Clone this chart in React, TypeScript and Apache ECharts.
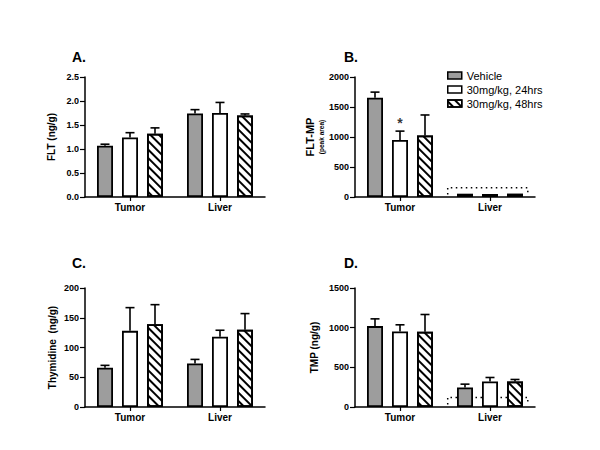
import { useEffect, useRef } from "react";
import * as echarts from "echarts";

const categories = ["Tumor", "Liver"];
const seriesNames = ["Vehicle", "30mg/kg, 24hrs", "30mg/kg, 48hrs"];

// Panel A: FLT (ng/g) — means and SEM, [Tumor, Liver]
const fltVehicle = [1.07, 1.74];
const fltVehicleSem = [0.03, 0.08];
const flt24h = [1.24, 1.75];
const flt24hSem = [0.1, 0.22];
const flt48h = [1.32, 1.7];
const flt48hSem = [0.12, 0.03];

// Panel B: FLT-MP (peak area)
const fltmpVehicle = [1653, 55];
const fltmpVehicleSem = [95, 0];
const fltmp24h = [952, 50];
const fltmp24hSem = [146, 0];
const fltmp48h = [1025, 55];
const fltmp48hSem = [342, 0];
const fltmpLod = 155;

// Panel C: Thymidine (ng/g)
const thyVehicle = [66, 73];
const thyVehicleSem = [4, 7];
const thy24h = [128, 118];
const thy24hSem = [39, 11];
const thy48h = [139, 130];
const thy48hSem = [33, 27];

// Panel D: TMP (ng/g)
const tmpVehicle = [1020, 247];
const tmpVehicleSem = [91, 41];
const tmp24h = [953, 322];
const tmp24hSem = [83, 50];
const tmp48h = [949, 322];
const tmp48hSem = [217, 25];
const tmpLod = 121;

const FONT = "'Liberation Sans', Arial, sans-serif";
const BAR_W = 16;
const BAR_GAP = 9;
const BAR_STEP = BAR_W + BAR_GAP;
const GRAY = "#9d9d9d";

const hatch = {
  symbol: "rect",
  symbolSize: 1,
  dashArrayX: [1, 0],
  dashArrayY: [2, 4],
  rotation: Math.PI / 4,
  color: "#000",
  backgroundColor: "#fff",
};

const barStyles = [
  { color: GRAY, borderColor: "#000", borderWidth: 1.8 },
  { color: "#fff", borderColor: "#000", borderWidth: 1.8 },
  { color: "#fff", borderColor: "#000", borderWidth: 1.8, decal: hatch },
];

type Panel = {
  means: number[][];
  sems: number[][];
  max: number;
  interval: number;
  decimals: number;
  name: string;
  nameGap: number;
  grid: { left: number; top: number; width: number; height: number };
  lod?: number;
  lodRange?: number[];
  lodBottom?: number;
  star?: boolean;
};

const panels: Panel[] = [
  {
    means: [fltVehicle, flt24h, flt48h],
    sems: [fltVehicleSem, flt24hSem, flt48hSem],
    max: 2.5,
    interval: 0.5,
    decimals: 1,
    name: "FLT (ng/g)",
    nameGap: 29,
    grid: { left: 85, top: 77, width: 180, height: 120 },
  },
  {
    means: [fltmpVehicle, fltmp24h, fltmp48h],
    sems: [fltmpVehicleSem, fltmp24hSem, fltmp48hSem],
    max: 2000,
    interval: 500,
    decimals: 0,
    name: "{a|FLT-MP}\n{b|(peak area)}",
    nameGap: 20,
    grid: { left: 355, top: 77, width: 180, height: 120 },
    lod: fltmpLod,
    lodRange: [1.03, 1.92],
    lodBottom: 40,
    star: true,
  },
  {
    means: [thyVehicle, thy24h, thy48h],
    sems: [thyVehicleSem, thy24hSem, thy48hSem],
    max: 200,
    interval: 50,
    decimals: 0,
    name: "Thymidine  (ng/g)",
    nameGap: 28,
    grid: { left: 85, top: 288, width: 180, height: 119 },
  },
  {
    means: [tmpVehicle, tmp24h, tmp48h],
    sems: [tmpVehicleSem, tmp24hSem, tmp48hSem],
    max: 1500,
    interval: 500,
    decimals: 0,
    name: "TMP (ng/g)",
    nameGap: 36,
    grid: { left: 355, top: 288, width: 180, height: 119 },
    lod: tmpLod,
    lodRange: [1.03, 1.92],
    lodBottom: 30,
  },
];

const titles = ["A.", "B.", "C.", "D."];
const titlePos = [
  [72, 50],
  [344, 50],
  [72, 256],
  [344, 256],
];

function makeErrRender(idx: number) {
  return (_params: any, api: any) => {
    const c = api.value(0);
    const m = api.value(1);
    const t = api.value(2);
    if (!(t > m)) return null;
    const p0 = api.coord([c, m]);
    const p1 = api.coord([c, t]);
    const x = p0[0] + (idx - 1) * BAR_STEP;
    const st = { stroke: "#000", lineWidth: 1.6 };
    return {
      type: "group",
      children: [
        { type: "line", shape: { x1: x, y1: p0[1], x2: x, y2: p1[1] }, style: st },
        { type: "line", shape: { x1: x - 4.5, y1: p1[1], x2: x + 4.5, y2: p1[1] }, style: st },
      ],
    };
  };
}

export default function App() {
  const ref = useRef<HTMLDivElement>(null);
  useEffect(() => {
    if (!ref.current) return;
    const chart = echarts.init(ref.current, undefined, { renderer: "svg" });
    const grids: any[] = [];
    const xAxes: any[] = [];
    const yAxes: any[] = [];
    const series: any[] = [];
    panels.forEach((p, gi) => {
      grids.push({ ...p.grid, containLabel: false });
      const catAxisIndex = xAxes.length;
      xAxes.push({
        type: "category",
        gridIndex: gi,
        data: categories,
        axisLine: { lineStyle: { color: "#000", width: 1.5 } },
        axisTick: { show: true, alignWithLabel: true, length: 4, lineStyle: { color: "#000", width: 1.2 } },
        axisLabel: { color: "#000", fontWeight: "bold", fontSize: 10, fontFamily: FONT, margin: 5 },
      });
      let valAxisIndex = -1;
      if (p.lod !== undefined) {
        valAxisIndex = xAxes.length;
        xAxes.push({ type: "value", gridIndex: gi, min: 0, max: 2, show: false });
      }
      yAxes.push({
        type: "value",
        gridIndex: gi,
        min: 0,
        max: p.max,
        interval: p.interval,
        name: p.name,
        nameLocation: "middle",
        nameGap: p.nameGap,
        nameRotate: 90,
        nameTextStyle: {
          color: "#000",
          fontWeight: "bold",
          fontSize: 10,
          fontFamily: FONT,
          rich: {
            a: { fontWeight: "bold", fontSize: 11, lineHeight: 13, fontFamily: FONT, color: "#000" },
            b: { fontWeight: "bold", fontSize: 6.5, lineHeight: 11, fontFamily: FONT, color: "#000" },
          },
        },
        splitLine: { show: false },
        axisLine: { show: true, lineStyle: { color: "#000", width: 1.5 } },
        axisTick: { show: true, length: 5, lineStyle: { color: "#000", width: 1.2 } },
        axisLabel: {
          color: "#000",
          fontWeight: "bold",
          fontSize: 9,
          fontFamily: FONT,
          margin: 6,
          formatter: (v: number) => v.toFixed(p.decimals),
        },
      });
      p.means.forEach((m, si) => {
        series.push({
          type: "bar",
          name: seriesNames[si],
          xAxisIndex: catAxisIndex,
          yAxisIndex: gi,
          data: m,
          barWidth: BAR_W,
          barGap: `${(BAR_GAP / BAR_W) * 100}%`,
          itemStyle: barStyles[si],
        });
      });
      p.means.forEach((m, si) => {
        series.push({
          type: "custom",
          xAxisIndex: catAxisIndex,
          yAxisIndex: gi,
          data: m.map((v, ci) => [ci, v, v + p.sems[si][ci]]),
          encode: { x: 0, y: [1, 2] },
          renderItem: makeErrRender(si),
          z: 5,
          silent: true,
        });
      });
      if (p.lod !== undefined && p.lodRange) {
        const [a, b] = p.lodRange;
        series.push({
          type: "line",
          xAxisIndex: valAxisIndex,
          yAxisIndex: gi,
          data: [
            [a, p.lodBottom],
            [a, p.lod],
            [b, p.lod],
            [b, p.lodBottom],
          ],
          symbol: "none",
          lineStyle: { color: "#000", width: 1.5, type: [1.5, 3.5] },
          silent: true,
          z: 1,
        });
      }
      if (p.star) {
        series.push({
          type: "scatter",
          xAxisIndex: catAxisIndex,
          yAxisIndex: gi,
          data: [[0, p.means[1][0] + p.sems[1][0]]],
          symbolSize: 0,
          label: {
            show: true,
            position: "top",
            distance: 1,
            formatter: "*",
            color: "#000",
            fontSize: 14,
            fontWeight: "bold",
            fontFamily: FONT,
          },
          silent: true,
        });
      }
    });

    chart.setOption({
      animation: false,
      backgroundColor: "#fff",
      title: titles.map((t, i) => ({
        text: t,
        left: titlePos[i][0],
        top: titlePos[i][1],
        padding: 0,
        textStyle: { color: "#000", fontWeight: "bold", fontSize: 14, fontFamily: FONT },
      })),
      legend: {
        data: seriesNames,
        orient: "vertical",
        left: 447,
        top: 70,
        padding: 0,
        itemWidth: 14,
        itemHeight: 7,
        itemGap: 3,
        icon: "rect",
        textStyle: { color: "#000", fontSize: 11, fontFamily: FONT },
        itemStyle: { borderColor: "#000", borderWidth: 1.5 },
        selectedMode: false,
      },
      grid: grids,
      xAxis: xAxes,
      yAxis: yAxes,
      series,
    });
    return () => chart.dispose();
  }, []);
  return (
    <div
      ref={ref}
      style={{ position: "fixed", left: 0, top: 0, width: 600, height: 450, background: "#fff" }}
    />
  );
}
